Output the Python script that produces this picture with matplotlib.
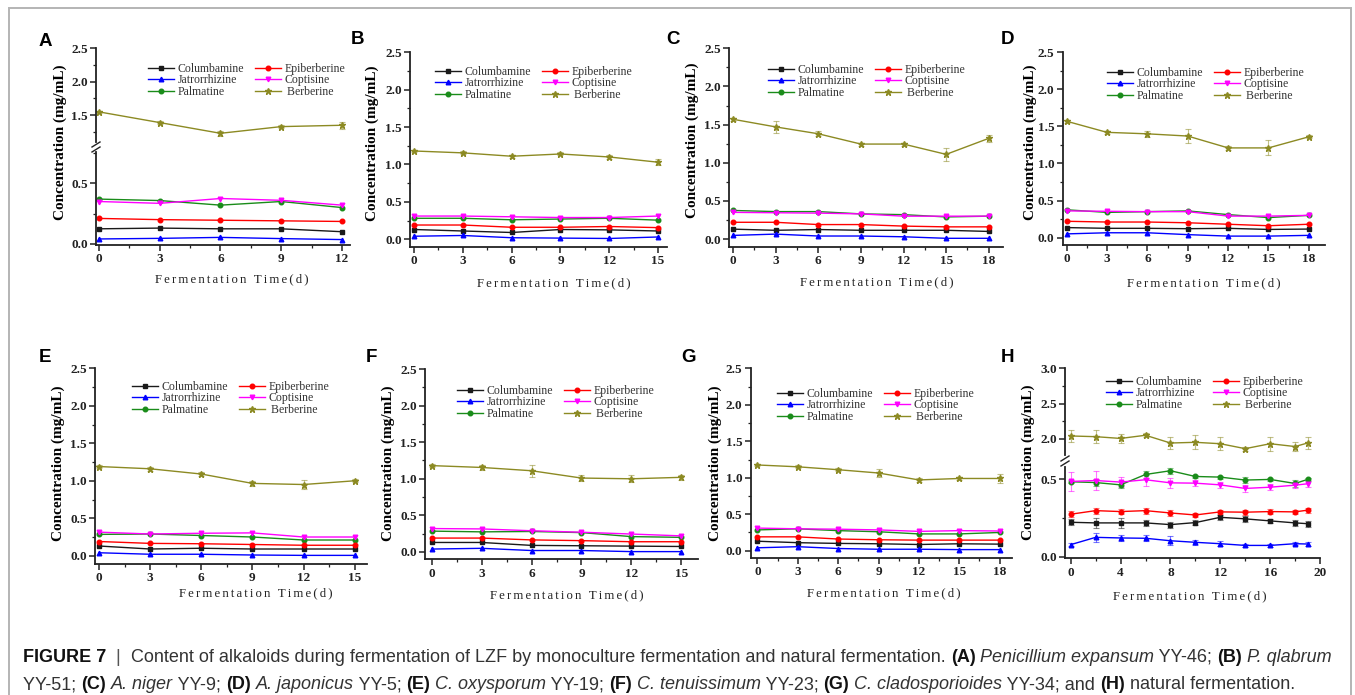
import matplotlib
matplotlib.use("Agg")
import matplotlib.pyplot as plt
from matplotlib.lines import Line2D
from matplotlib.patches import Rectangle
from matplotlib.ticker import MultipleLocator, AutoMinorLocator

W, H = 1355, 695

compounds = ["Columbamine", "Jatrorrhizine", "Palmatine", "Epiberberine", "Coptisine", "Berberine"]
colors = ["#1a1a1a", "#0000ff", "#1a8c1a", "#ff0000", "#ff00ff", "#8c8a23"]
markers = ["s", "^", "o", "o", "v", "*"]

# ---- data (mg/mL) ----
days_a = [0, 3, 6, 9, 12]
panel_a = {
    "Columbamine":   [0.124, 0.130, 0.124, 0.124, 0.100],
    "Jatrorrhizine": [0.040, 0.045, 0.053, 0.043, 0.035],
    "Palmatine":     [0.370, 0.358, 0.320, 0.350, 0.300],
    "Epiberberine":  [0.210, 0.200, 0.195, 0.190, 0.185],
    "Coptisine":     [0.350, 0.335, 0.375, 0.360, 0.320],
    "Berberine":     [1.55, 1.39, 1.23, 1.33, 1.35],
}
ber_err_a = [0.02, 0.02, 0.04, 0.02, 0.05]

days_b = [0, 3, 6, 9, 12, 15]
panel_b = {
    "Columbamine":   [0.13, 0.11, 0.09, 0.13, 0.125, 0.11],
    "Jatrorrhizine": [0.04, 0.05, 0.02, 0.015, 0.01, 0.03],
    "Palmatine":     [0.28, 0.28, 0.26, 0.27, 0.28, 0.255],
    "Epiberberine":  [0.19, 0.19, 0.16, 0.16, 0.17, 0.155],
    "Coptisine":     [0.31, 0.31, 0.30, 0.29, 0.29, 0.31],
    "Berberine":     [1.18, 1.155, 1.11, 1.14, 1.10, 1.03],
}
ber_err_b = [0.02, 0.02, 0.02, 0.02, 0.03, 0.04]

days_c = [0, 3, 6, 9, 12, 15, 18]
panel_c = {
    "Columbamine":   [0.13, 0.115, 0.125, 0.115, 0.115, 0.115, 0.10],
    "Jatrorrhizine": [0.048, 0.065, 0.04, 0.04, 0.03, 0.01, 0.01],
    "Palmatine":     [0.375, 0.36, 0.36, 0.33, 0.32, 0.29, 0.30],
    "Epiberberine":  [0.22, 0.22, 0.19, 0.19, 0.17, 0.16, 0.16],
    "Coptisine":     [0.35, 0.345, 0.34, 0.33, 0.30, 0.30, 0.30],
    "Berberine":     [1.57, 1.47, 1.38, 1.245, 1.245, 1.11, 1.32],
}
ber_err_c = [0.02, 0.08, 0.03, 0.02, 0.02, 0.09, 0.05]

days_d = [0, 3, 6, 9, 12, 15, 18]
panel_d = {
    "Columbamine":   [0.135, 0.125, 0.125, 0.12, 0.125, 0.11, 0.115],
    "Jatrorrhizine": [0.05, 0.065, 0.065, 0.04, 0.02, 0.02, 0.03],
    "Palmatine":     [0.375, 0.34, 0.35, 0.36, 0.31, 0.27, 0.30],
    "Epiberberine":  [0.22, 0.21, 0.21, 0.20, 0.18, 0.16, 0.18],
    "Coptisine":     [0.36, 0.355, 0.35, 0.35, 0.29, 0.29, 0.30],
    "Berberine":     [1.57, 1.42, 1.40, 1.37, 1.21, 1.21, 1.36],
}
ber_err_d = [0.02, 0.02, 0.04, 0.09, 0.03, 0.10, 0.02]

days_e = [0, 3, 6, 9, 12, 15]
panel_e = {
    "Columbamine":   [0.13, 0.09, 0.10, 0.09, 0.09, 0.09],
    "Jatrorrhizine": [0.04, 0.02, 0.02, 0.01, 0.005, 0.005],
    "Palmatine":     [0.285, 0.29, 0.27, 0.25, 0.21, 0.21],
    "Epiberberine":  [0.19, 0.165, 0.16, 0.15, 0.14, 0.14],
    "Coptisine":     [0.315, 0.29, 0.30, 0.305, 0.25, 0.25],
    "Berberine":     [1.19, 1.16, 1.09, 0.965, 0.95, 1.0],
}
ber_err_e = [0.02, 0.03, 0.03, 0.03, 0.06, 0.02]

days_f = [0, 3, 6, 9, 12, 15]
panel_f = {
    "Columbamine":   [0.13, 0.13, 0.09, 0.085, 0.08, 0.075],
    "Jatrorrhizine": [0.04, 0.05, 0.02, 0.02, 0.005, 0.005],
    "Palmatine":     [0.285, 0.275, 0.28, 0.265, 0.21, 0.20],
    "Epiberberine":  [0.19, 0.19, 0.165, 0.155, 0.14, 0.14],
    "Coptisine":     [0.32, 0.315, 0.29, 0.27, 0.245, 0.22],
    "Berberine":     [1.18, 1.155, 1.11, 1.01, 1.00, 1.02],
}
ber_err_f = [0.02, 0.03, 0.08, 0.04, 0.05, 0.03]

days_g = [0, 3, 6, 9, 12, 15, 18]
panel_g = {
    "Columbamine":   [0.13, 0.11, 0.10, 0.095, 0.085, 0.095, 0.09],
    "Jatrorrhizine": [0.04, 0.055, 0.03, 0.02, 0.02, 0.015, 0.015],
    "Palmatine":     [0.285, 0.30, 0.275, 0.26, 0.23, 0.23, 0.25],
    "Epiberberine":  [0.19, 0.19, 0.16, 0.15, 0.145, 0.145, 0.145],
    "Coptisine":     [0.31, 0.30, 0.295, 0.285, 0.265, 0.275, 0.27],
    "Berberine":     [1.175, 1.15, 1.11, 1.065, 0.97, 0.99, 0.99],
}
ber_err_g = [0.02, 0.02, 0.02, 0.06, 0.03, 0.02, 0.06]

days_h = [0, 2, 4, 6, 8, 10, 12, 14, 16, 18, 19]
panel_h = {
    "Columbamine":   [0.222, 0.218, 0.218, 0.218, 0.207, 0.220, 0.254, 0.244, 0.231, 0.218, 0.213],
    "Jatrorrhizine": [0.078, 0.125, 0.121, 0.119, 0.103, 0.093, 0.084, 0.073, 0.073, 0.084, 0.082],
    "Palmatine":     [0.483, 0.478, 0.463, 0.530, 0.554, 0.517, 0.513, 0.494, 0.498, 0.472, 0.498],
    "Epiberberine":  [0.274, 0.297, 0.291, 0.297, 0.282, 0.269, 0.289, 0.287, 0.291, 0.289, 0.300],
    "Coptisine":     [0.485, 0.491, 0.481, 0.496, 0.476, 0.474, 0.463, 0.440, 0.448, 0.461, 0.470],
    "Berberine":     [2.04, 2.03, 2.005, 2.05, 1.94, 1.95, 1.93, 1.86, 1.93, 1.89, 1.94],
}
err_h = {
    "Columbamine":   [0.02, 0.03, 0.03, 0.02, 0.02, 0.015, 0.015, 0.02, 0.015, 0.02, 0.02],
    "Jatrorrhizine": [0.01, 0.03, 0.02, 0.02, 0.03, 0.015, 0.015, 0.01, 0.01, 0.01, 0.01],
    "Palmatine":     [0.01, 0.02, 0.02, 0.02, 0.02, 0.01, 0.01, 0.02, 0.01, 0.02, 0.01],
    "Epiberberine":  [0.02, 0.02, 0.015, 0.02, 0.02, 0.015, 0.015, 0.015, 0.015, 0.015, 0.015],
    "Coptisine":     [0.06, 0.06, 0.03, 0.04, 0.03, 0.02, 0.02, 0.02, 0.02, 0.02, 0.02],
    "Berberine":     [0.08, 0.09, 0.07, 0.03, 0.09, 0.10, 0.09, 0.03, 0.10, 0.07, 0.09],
}

# ---- figure ----
fig = plt.figure(figsize=(W / 100, H / 100), dpi=100)
fig.patch.set_facecolor("white")

SERIF = ["Liberation Serif", "DejaVu Serif"]
SANS = ["Liberation Sans", "DejaVu Sans"]


def fx(px):
    return px / W


def fy(py):
    return 1 - py / H


def add_ax(x0, x1, ytop, ybot):
    return fig.add_axes([fx(x0), fy(ybot), (x1 - x0) / W, (ybot - ytop) / H])


def style_ax(ax, xstep, bottom=True):
    ax.patch.set_alpha(0)
    for s in ["top", "right"]:
        ax.spines[s].set_visible(False)
    for s in ["left", "bottom"]:
        ax.spines[s].set_linewidth(1.3)
        ax.spines[s].set_color("#222222")
    ax.xaxis.set_major_locator(MultipleLocator(xstep))
    ax.xaxis.set_minor_locator(AutoMinorLocator(2))
    ax.yaxis.set_major_locator(MultipleLocator(0.5))
    ax.yaxis.set_minor_locator(AutoMinorLocator(2))
    ax.tick_params(which="major", direction="out", length=4, width=1.1, colors="#222222", pad=2)
    ax.tick_params(which="minor", direction="out", length=2.5, width=0.9, colors="#222222")
    if not bottom:
        ax.spines["bottom"].set_visible(False)
        ax.tick_params(axis="x", which="both", bottom=False, labelbottom=False)
    for lab in ax.get_xticklabels() + ax.get_yticklabels():
        lab.set_fontfamily(SERIF)
        lab.set_fontweight("bold")
        lab.set_fontsize(9.5)
    ax.yaxis.set_major_formatter(matplotlib.ticker.FormatStrFormatter("%.1f"))
    ax.xaxis.set_major_formatter(matplotlib.ticker.FormatStrFormatter("%d"))


def draw_series(ax, days, panel, ber_err=None, errs=None):
    handles = []
    for name, c, m in zip(compounds, colors, markers):
        ms = 5 if m == "*" else 3.3
        if errs is not None:
            e = errs[name]
        elif name == "Berberine" and ber_err is not None:
            e = ber_err
        else:
            e = None
        if e is not None:
            h = ax.errorbar(days, panel[name], yerr=e, color=c, marker=m, ms=ms, lw=1.0,
                            ecolor=c + "88", elinewidth=0.8, capsize=2, capthick=0.8,
                            label=name)
            handles.append(h.lines[0])
        else:
            h, = ax.plot(days, panel[name], color=c, marker=m, ms=ms, lw=1.0, label=name)
            handles.append(h)
    return handles


def add_legend(handles, x, y):
    lab = [" " + n if n == "Berberine" else n for n in compounds]
    fig.legend(handles, lab, loc="upper left", bbox_to_anchor=(fx(x), fy(y)),
               bbox_transform=fig.transFigure, ncol=2, frameon=False,
               borderpad=0, borderaxespad=0, labelspacing=-0.05, handlelength=2.2,
               handletextpad=0.3, columnspacing=0.9,
               prop={"family": SERIF, "size": 8.5}, labelcolor="#333333")


XLABEL = "\u2006".join("Fermentation Time(d)")


def labels(letter, lx, ly, ylx, yly, xlx, xly):
    fig.text(fx(lx), fy(ly), letter, fontsize=13.5, fontweight="bold", family=SANS,
             ha="center", va="center")
    fig.text(fx(ylx), fy(yly), "Concentration (mg/mL)", rotation=90, fontsize=11,
             fontweight="bold", family=SERIF, ha="center", va="center")
    fig.text(fx(xlx), fy(xly), XLABEL, fontsize=9.2, family=SERIF, ha="center",
             va="center", color="#222222")


def break_marks(xs, ys):
    for yy in ys:
        fig.add_artist(Line2D([fx(xs - 4), fx(xs + 4)], [fy(yy + 2.5), fy(yy - 2.5)],
                              transform=fig.transFigure, color="#222222", lw=1.0))


# simple panels: (days, data, err, xstep, box, xlim, ylim, legend anchor, label pos)
simple = [
    (days_b, panel_b, ber_err_b, 3, (410, 667, 52.3, 246.7), (-0.25, 15.55), (-0.1, 2.5),
     (435, 66), ("B", 358, 40, 372, 143, 554, 283)),
    (days_c, panel_c, ber_err_c, 3, (729, 1003, 48.3, 246.7), (-0.28, 19.0), (-0.1, 2.5),
     (768, 64), ("C", 673, 40, 692, 140, 877, 282)),
    (days_d, panel_d, ber_err_d, 3, (1062.7, 1325, 52.3, 245), (-0.29, 19.2), (-0.1, 2.5),
     (1107, 67), ("D", 1007, 40, 1030, 142, 1204, 283)),
    (days_e, panel_e, ber_err_e, 3, (95, 366.7, 368.3, 564), (-0.23, 15.7), (-0.11, 2.5),
     (132, 381), ("E", 45, 357, 58, 463, 256, 593)),
    (days_f, panel_f, ber_err_f, 3, (425, 698, 369, 559.3), (-0.4, 16.0), (-0.1, 2.5),
     (457, 385), ("F", 371, 357, 388, 463, 567, 595)),
    (days_g, panel_g, ber_err_g, 3, (750.7, 1011.7, 368.3, 558), (-0.5, 18.9), (-0.1, 2.5),
     (777, 388), ("G", 688, 357, 715, 463, 884, 593)),
]

for days, data, err, xstep, box, xl, yl, leg, lab in simple:
    ax = add_ax(*box)
    hs = draw_series(ax, days, data, ber_err=err)
    ax.set_xlim(*xl)
    ax.set_ylim(*yl)
    style_ax(ax, xstep)
    add_legend(hs, *leg)
    labels(*lab)

# panel A (broken y axis)
axl = add_ax(96, 350, 152, 245)
axu = add_ax(96, 350, 48.3, 142)
for a in (axl, axu):
    hs = draw_series(a, days_a, panel_a, ber_err=ber_err_a)
    a.set_xlim(-0.15, 12.4)
axl.set_ylim(-0.01, 0.76)
axu.set_ylim(1.1, 2.5)
style_ax(axl, 3)
style_ax(axu, 3, bottom=False)
add_legend(hs, 148, 63)
labels("A", 45, 41, 60, 142, 232, 279)
break_marks(96, [144.5, 149.5])

# panel H (broken y axis)
axl = add_ax(1065, 1320, 466.7, 558.3)
axu = add_ax(1065, 1320, 368.3, 455)
for a in (axl, axu):
    hs = draw_series(a, days_h, panel_h, errs=err_h)
    a.set_xlim(-0.46, 20)
axl.set_ylim(-0.01, 0.58)
axu.set_ylim(1.77, 3.0)
style_ax(axl, 4)
style_ax(axu, 4, bottom=False)
add_legend(hs, 1106, 376)
labels("H", 1007, 357, 1028, 462, 1190, 596)
break_marks(1065, [458.5, 463.5])

# frame
fig.add_artist(Rectangle((fx(8.5), fy(705)), (1351 - 8.5) / W, (705 - 8.5) / H,
                         transform=fig.transFigure, fill=False, ec="#b4b4b4", lw=1.4))

# caption with mixed styles
renderer = fig.canvas.get_renderer()


def run_width(s, size, weight, style):
    t1 = fig.text(0, 0, "|" + s + "|", fontsize=size, fontweight=weight, fontstyle=style, family=SANS)
    t2 = fig.text(0, 0, "||", fontsize=size, fontweight=weight, fontstyle=style, family=SANS)
    w = t1.get_window_extent(renderer).width - t2.get_window_extent(renderer).width
    t1.remove()
    t2.remove()
    return w


def draw_runs(x, y, runs, size):
    for s, weight, style, col in runs:
        fig.text(fx(x), fy(y), s, fontsize=size, fontweight=weight, fontstyle=style,
                 family=SANS, color=col, va="baseline", ha="left")
        x += run_width(s, size, weight, style)


N, B, I = ("normal", "normal"), ("bold", "normal"), ("normal", "italic")
DK = "#333333"
BK = "#111111"
line1 = [("FIGURE 7", *B, BK), ("  |  ", *N, "#555555"),
         ("Content of alkaloids during fermentation of LZF by monoculture fermentation and natural fermentation. ", *N, DK),
         ("(A)", *B, BK), (" ", *N, DK), ("Penicillium expansum", *I, DK), (" YY-46; ", *N, DK),
         ("(B)", *B, BK), (" ", *N, DK), ("P. qlabrum", *I, DK)]
line2 = [("YY-51; ", *N, DK), ("(C)", *B, BK), (" ", *N, DK), ("A. niger", *I, DK),
         (" YY-9; ", *N, DK), ("(D)", *B, BK), (" ", *N, DK), ("A. japonicus", *I, DK),
         (" YY-5; ", *N, DK), ("(E)", *B, BK), (" ", *N, DK), ("C. oxysporum", *I, DK),
         (" YY-19; ", *N, DK), ("(F)", *B, BK), (" ", *N, DK), ("C. tenuissimum", *I, DK),
         (" YY-23; ", *N, DK), ("(G)", *B, BK), (" ", *N, DK), ("C. cladosporioides", *I, DK),
         (" YY-34; and ", *N, DK), ("(H)", *B, BK), (" natural fermentation.", *N, DK)]

w10 = sum(run_width(s, 10, w, st) for s, w, st, _ in line1)
csize = 10 * (1336 - 23) / w10
draw_runs(23, 662, line1, csize)
draw_runs(23, 689, line2, csize)

fig.savefig("out.png", dpi=100, facecolor="white")
